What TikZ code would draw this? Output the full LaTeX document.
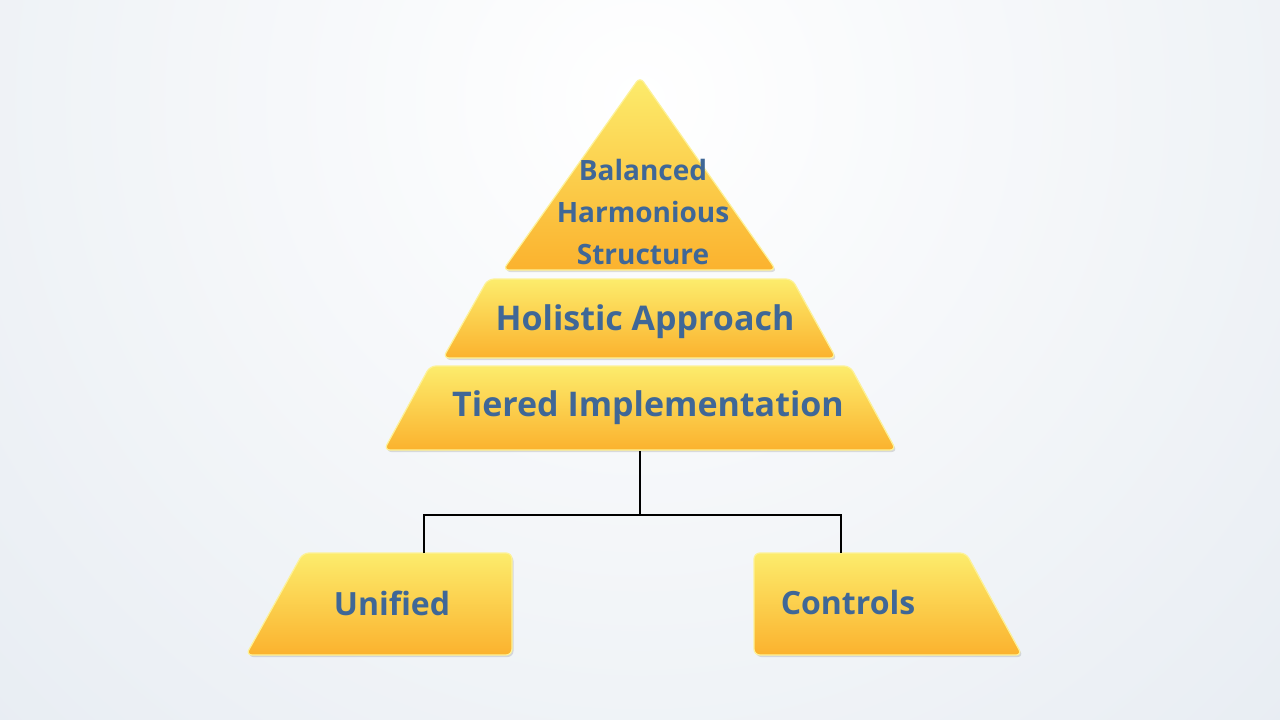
\documentclass[tikz,border=0pt]{standalone}
\usepackage{fontspec}
\setmainfont{Open Sans}
\usetikzlibrary{shadows}
\definecolor{txt}{HTML}{3F6797}
\definecolor{ytop}{HTML}{FCEC6C}
\definecolor{ybot}{HTML}{FBB22E}
\definecolor{bgout}{HTML}{E3E9F0}
\begin{document}
\begin{tikzpicture}[x=1pt,y=-1pt,
  tier/.style={top color=ytop,bottom color=ybot,draw=ytop!70!white,line width=1.2pt,rounded corners=6pt,
    drop shadow={shadow xshift=1.5pt,shadow yshift=-2pt,opacity=0.25}},
  lbl/.style={text=txt,font=\bfseries,align=center},
  conn/.style={line width=1.6pt,black}]
\useasboundingbox (0,0) rectangle (1280,720);
\shade[inner color=white,outer color=bgout] (-460,-1000) rectangle (1740,1200);
\path[tier] (640,77) -- (776,270) -- (503,270) -- cycle;
\path[tier] (488,279) -- (792,279) -- (836,358) -- (443,358) -- cycle;
\path[tier] (430,366) -- (850,366) -- (896,450) -- (384,450) -- cycle;
\path[tier] (303,553) -- (512,553) -- (512,655) -- (246,655) -- cycle;
\path[tier] (754,553) -- (966,553) -- (1022,655) -- (754,655) -- cycle;
\node[lbl,font=\bfseries\fontsize{28}{42}\selectfont] (top) at (643,212) {Balanced\\Harmonious\\Structure};
\node[lbl,font=\bfseries\fontsize{34}{40}\selectfont] (hol) at (645,322) {Holistic Approach};
\node[lbl,font=\bfseries\fontsize{34}{40}\selectfont] (tie) at (648,408) {Tiered Implementation};
\node[lbl,font=\bfseries\fontsize{32}{38}\selectfont] (uni) at (392,603) {Unified};
\node[lbl,font=\bfseries\fontsize{32}{38}\selectfont] (con) at (848,602) {Controls};
\coordinate (a) at (640,451);
\coordinate (j) at (640,515);
\coordinate (l) at (424,553);
\coordinate (r) at (841,553);
\draw[conn] (a) -- (j);
\draw[conn] (l) |- (j) -| (r);
\end{tikzpicture}
\end{document}
